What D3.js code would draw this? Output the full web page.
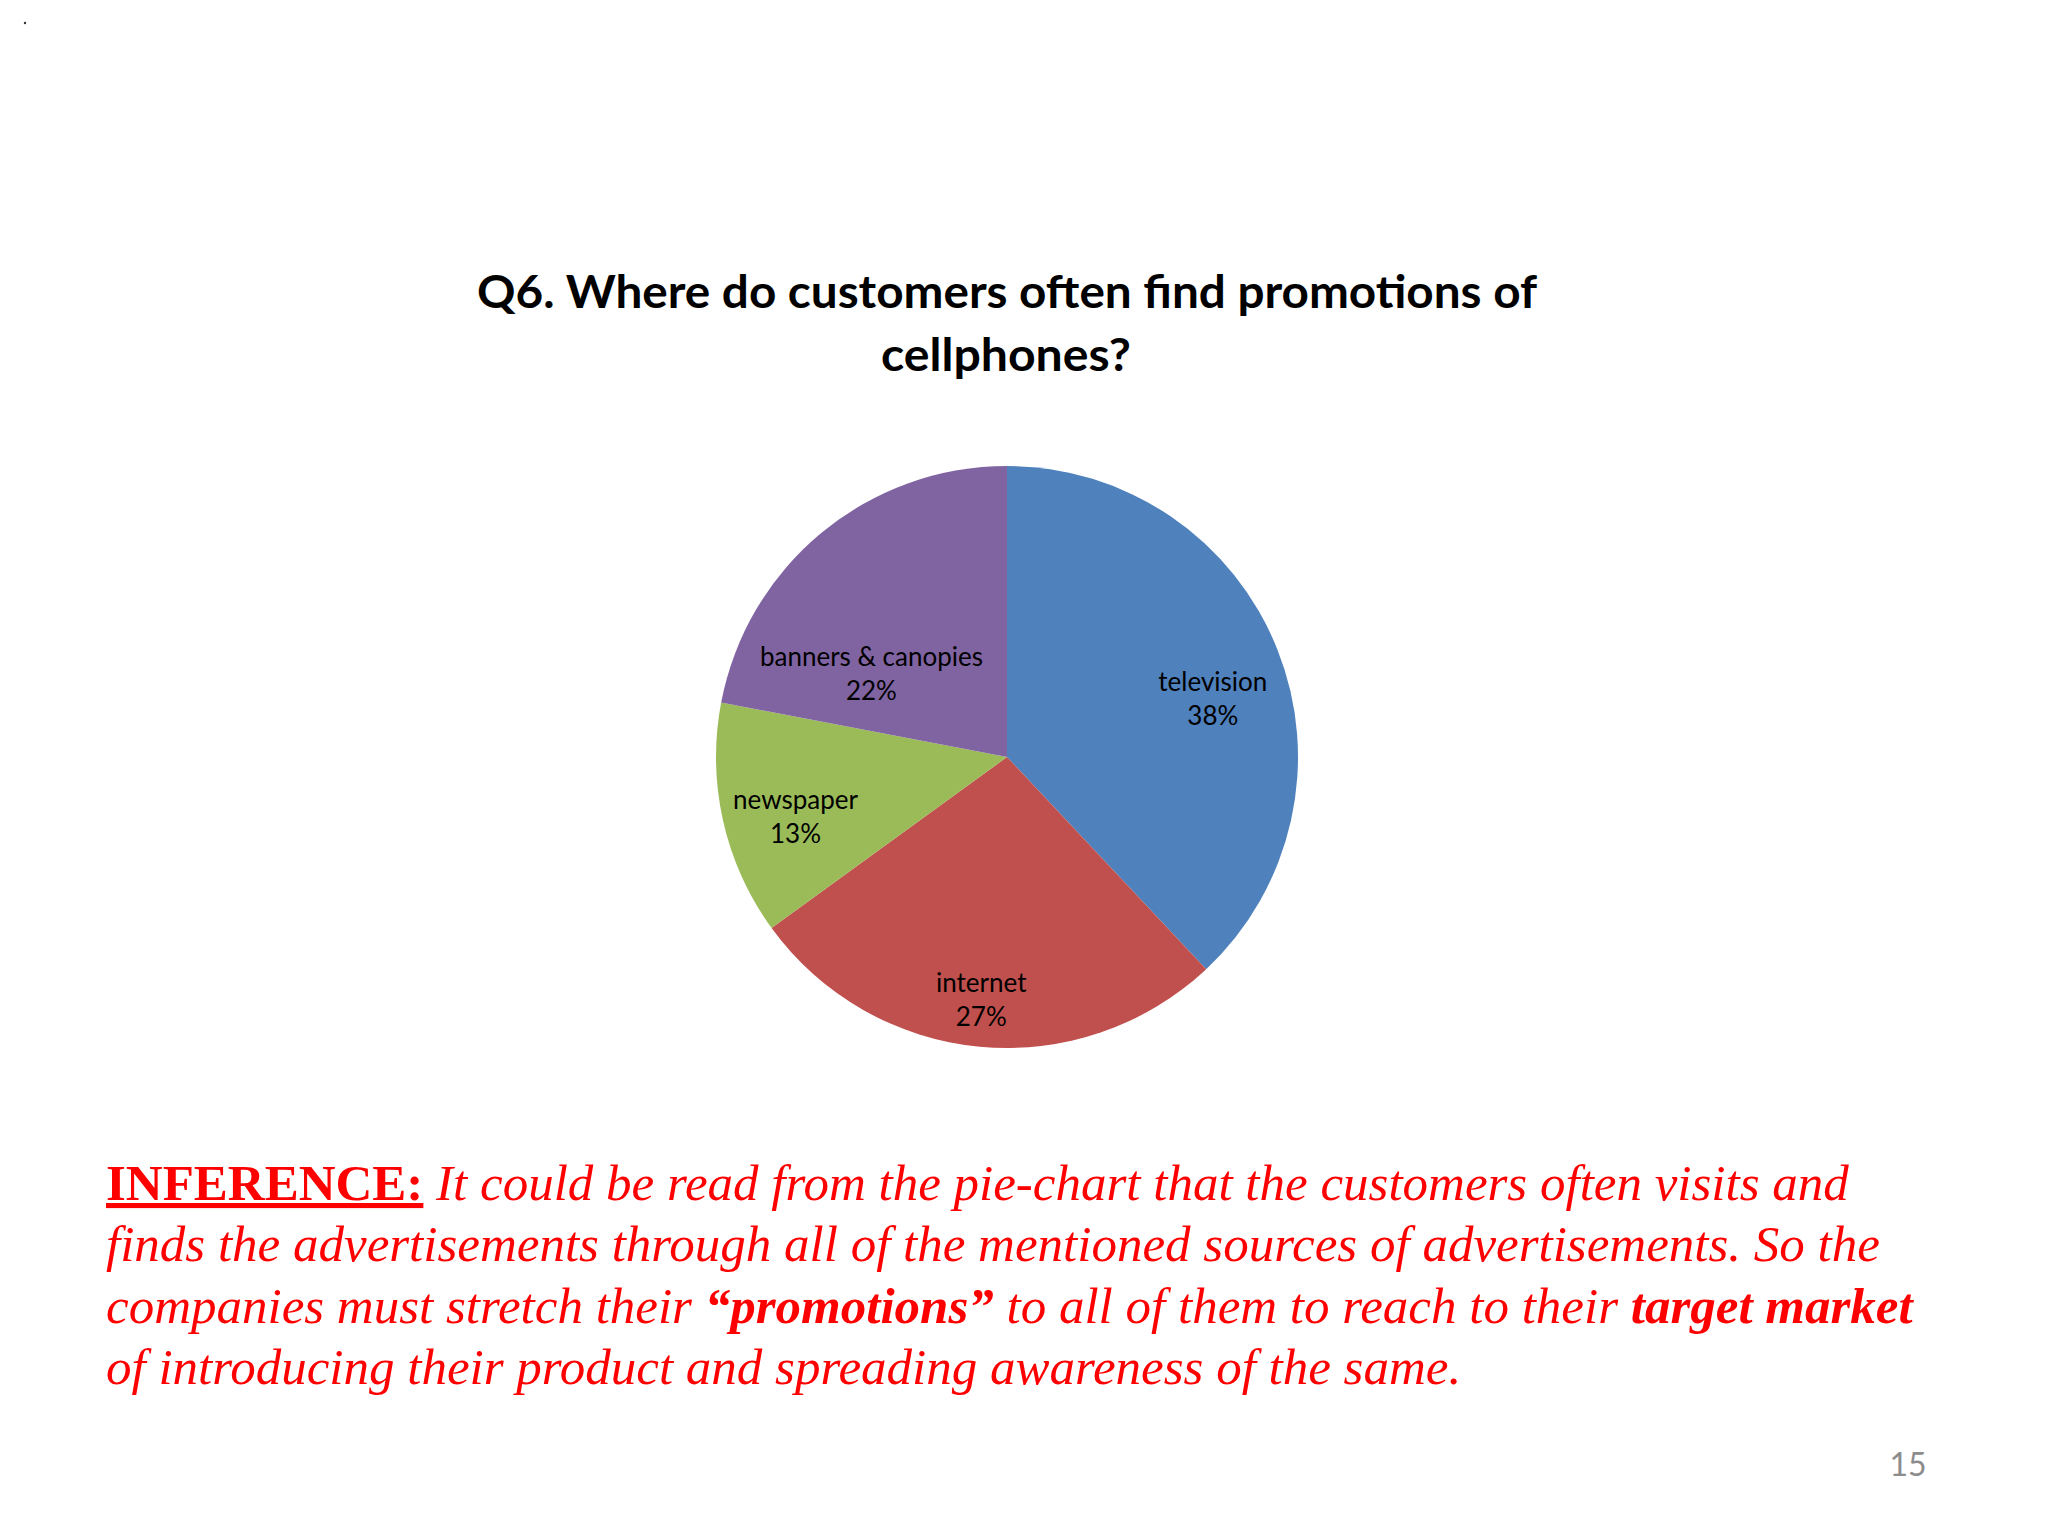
<!DOCTYPE html>
<html>
<head>
<meta charset="utf-8">
<script src="https://cdn.jsdelivr.net/npm/d3@7"></script>
<style>
  html, body { margin: 0; padding: 0; background: #ffffff; }
  svg { display: block; }
</style>
</head>
<body>
<script>
// ---- data ----
const categories = ["television", "internet", "newspaper", "banners & canopies"];
const values = [38, 27, 13, 22];
const sliceColors = ["#4F81BD", "#C0504D", "#9BBB59", "#8064A2"];
const titleLines = ["Q6. Where do customers often find promotions of", "cellphones?"];
const pageNumber = "15";
const inferenceLines = [
  [{t: "INFERENCE:", b: true, i: false, u: true}, {t: " It could be read from the pie-chart that the customers often visits and", b: false, i: true}],
  [{t: "finds the advertisements through all of the mentioned sources of advertisements. So the", b: false, i: true}],
  [{t: "companies must stretch their ", b: false, i: true}, {t: "\u201Cpromotions\u201D", b: true, i: true}, {t: " to all of them to reach to their ", b: false, i: true}, {t: "target market", b: true, i: true}],
  [{t: "of introducing their product and spreading awareness of the same.", b: false, i: true}]
];

// ---- layout ----
const W = 2048, H = 1536;
const svg = d3.select("body").append("svg").attr("width", W).attr("height", H);
svg.append("rect").attr("width", W).attr("height", H).attr("fill", "#ffffff");

// tiny artifact dot at top-left
svg.append("circle").attr("cx", 25).attr("cy", 23).attr("r", 1.2).attr("fill", "#333");

// title
const titleG = svg.append("g").attr("font-family", "Lato, 'Open Sans', sans-serif")
  .attr("font-weight", "bold").attr("fill", "#000").attr("text-anchor", "middle");
titleG.append("text").attr("x", 1007).attr("y", 308).attr("font-size", 46)
  .attr("textLength", 1060).attr("lengthAdjust", "spacingAndGlyphs").text(titleLines[0]);
titleG.append("text").attr("x", 1006).attr("y", 371).attr("font-size", 46)
  .attr("textLength", 250).attr("lengthAdjust", "spacingAndGlyphs").text(titleLines[1]);

// pie
const cx = 1007, cy = 757, R = 291;
const pie = d3.pie().sort(null).value(d => d)(values);
const arc = d3.arc().innerRadius(0).outerRadius(R);
const labelArc = d3.arc().innerRadius(R * 0.72).outerRadius(R * 0.72);
const g = svg.append("g").attr("transform", `translate(${cx},${cy})`);
g.selectAll("path.slice").data(pie).join("path").attr("class", "slice")
  .attr("d", arc).attr("fill", (d, i) => sliceColors[i]);

// label nudges to mimic Excel's best-fit placement
const nudges = [[11, 11], [-6, 26], [-7, 6], [-2, 70]];
const lab = g.selectAll("g.lab").data(pie).join("g").attr("class", "lab")
  .attr("transform", (d, i) => {
    const c = labelArc.centroid(d);
    return `translate(${c[0] + nudges[i][0]},${c[1] + nudges[i][1]})`;
  });
lab.append("text").attr("text-anchor", "middle").attr("font-family", "Lato, 'Open Sans', sans-serif")
  .attr("font-size", 26).attr("fill", "#000").text((d, i) => categories[i]);
lab.append("text").attr("text-anchor", "middle").attr("font-family", "Lato, 'Open Sans', sans-serif")
  .attr("font-size", 26).attr("fill", "#000").attr("y", 34)
  .text((d, i) => values[i] + "%");

// inference text
const infG = svg.append("g").attr("font-family", "'Liberation Serif', 'Times New Roman', serif")
  .attr("font-size", 51).attr("fill", "#FF0000");
const lineY = [1200, 1261, 1323, 1384];
inferenceLines.forEach((segs, li) => {
  const t = infG.append("text").attr("x", 106).attr("y", lineY[li]);
  segs.forEach(s => {
    const ts = t.append("tspan").text(s.t)
      .attr("font-weight", s.b ? "bold" : "normal")
      .attr("font-style", s.i ? "italic" : "normal");
    if (s.u) ts.attr("text-decoration", "underline");
  });
});

// page number
svg.append("text").attr("x", 1908).attr("y", 1476).attr("text-anchor", "middle")
  .attr("font-family", "Lato, 'Open Sans', sans-serif").attr("font-size", 32)
  .attr("fill", "#8c8c8c").text(pageNumber);
</script>
</body>
</html>
